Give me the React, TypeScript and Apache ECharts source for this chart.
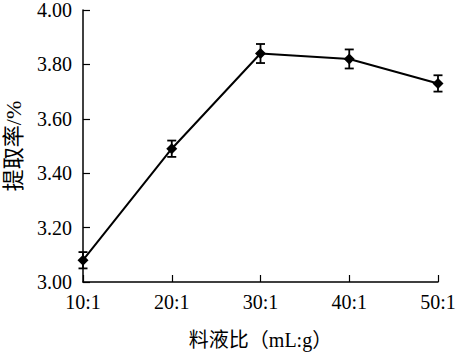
import React, { useEffect, useRef } from "react";
import * as echarts from "echarts";

const categories = ["10:1", "20:1", "30:1", "40:1", "50:1"];
const values = [3.08, 3.49, 3.84, 3.82, 3.73];
const errors = [0.03, 0.03, 0.035, 0.035, 0.03];
const yTicks = { min: 3.0, max: 4.0, interval: 0.2 };

const FONT = "'Liberation Serif', 'Times New Roman', 'Noto Sans CJK SC', serif";

export default function App() {
  const ref = useRef<HTMLDivElement>(null);
  useEffect(() => {
    const chart = echarts.init(ref.current!, null, { renderer: "svg" });
    const errData = values.map((v, i) => [i, v - errors[i], v + errors[i]]);
    chart.setOption({
      animation: false,
      backgroundColor: "#fff",
      grid: { left: 83, right: 20, top: 10, bottom: 74, containLabel: false, outerBoundsMode: "none" },
      xAxis: {
        type: "category",
        data: categories,
        boundaryGap: false,
        axisLine: { lineStyle: { color: "#000", width: 1.5 } },
        axisTick: { inside: true, length: 7, lineStyle: { color: "#000", width: 1.2 } },
        axisLabel: { color: "#000", fontFamily: FONT, fontSize: 20, margin: 10 },
        name: "料液比（mL:g）",
        nameLocation: "middle",
        nameGap: 48,
        nameTextStyle: { color: "#000", fontFamily: FONT, fontSize: 20 },
      },
      yAxis: {
        type: "value",
        min: yTicks.min,
        max: yTicks.max,
        interval: yTicks.interval,
        splitLine: { show: false },
        axisLine: { show: true, lineStyle: { color: "#000", width: 1.5 } },
        axisTick: { show: true, inside: true, length: 7, lineStyle: { color: "#000", width: 1.2 } },
        axisLabel: {
          color: "#000",
          fontFamily: FONT,
          fontSize: 20,
          lineHeight: 16,
          margin: 11,
          formatter: (v: number) => v.toFixed(2),
        },
        name: "提取率/%",
        nameLocation: "middle",
        nameGap: 60,
        nameTextStyle: { color: "#000", fontFamily: FONT, fontSize: 22, lineHeight: 20 },
      },
      series: [
        {
          type: "line",
          data: values,
          symbol: "diamond",
          symbolSize: 11,
          itemStyle: { color: "#000" },
          lineStyle: { color: "#000", width: 2 },
          z: 3,
        },
        {
          type: "custom",
          data: errData,
          z: 2,
          renderItem: (params: any, api: any) => {
            const x = api.value(0);
            const lo = api.coord([x, api.value(1)]);
            const hi = api.coord([x, api.value(2)]);
            const hw = 4.5;
            const style = { stroke: "#000", lineWidth: 1.8 };
            return {
              type: "group",
              children: [
                { type: "line", shape: { x1: lo[0], y1: lo[1], x2: hi[0], y2: hi[1] }, style },
                { type: "line", shape: { x1: lo[0] - hw, y1: lo[1], x2: lo[0] + hw, y2: lo[1] }, style },
                { type: "line", shape: { x1: hi[0] - hw, y1: hi[1], x2: hi[0] + hw, y2: hi[1] }, style },
              ],
            };
          },
        },
      ],
    });
    return () => chart.dispose();
  }, []);
  return <div ref={ref} style={{ width: 458, height: 356, position: "absolute", left: 0, top: 0 }} />;
}
